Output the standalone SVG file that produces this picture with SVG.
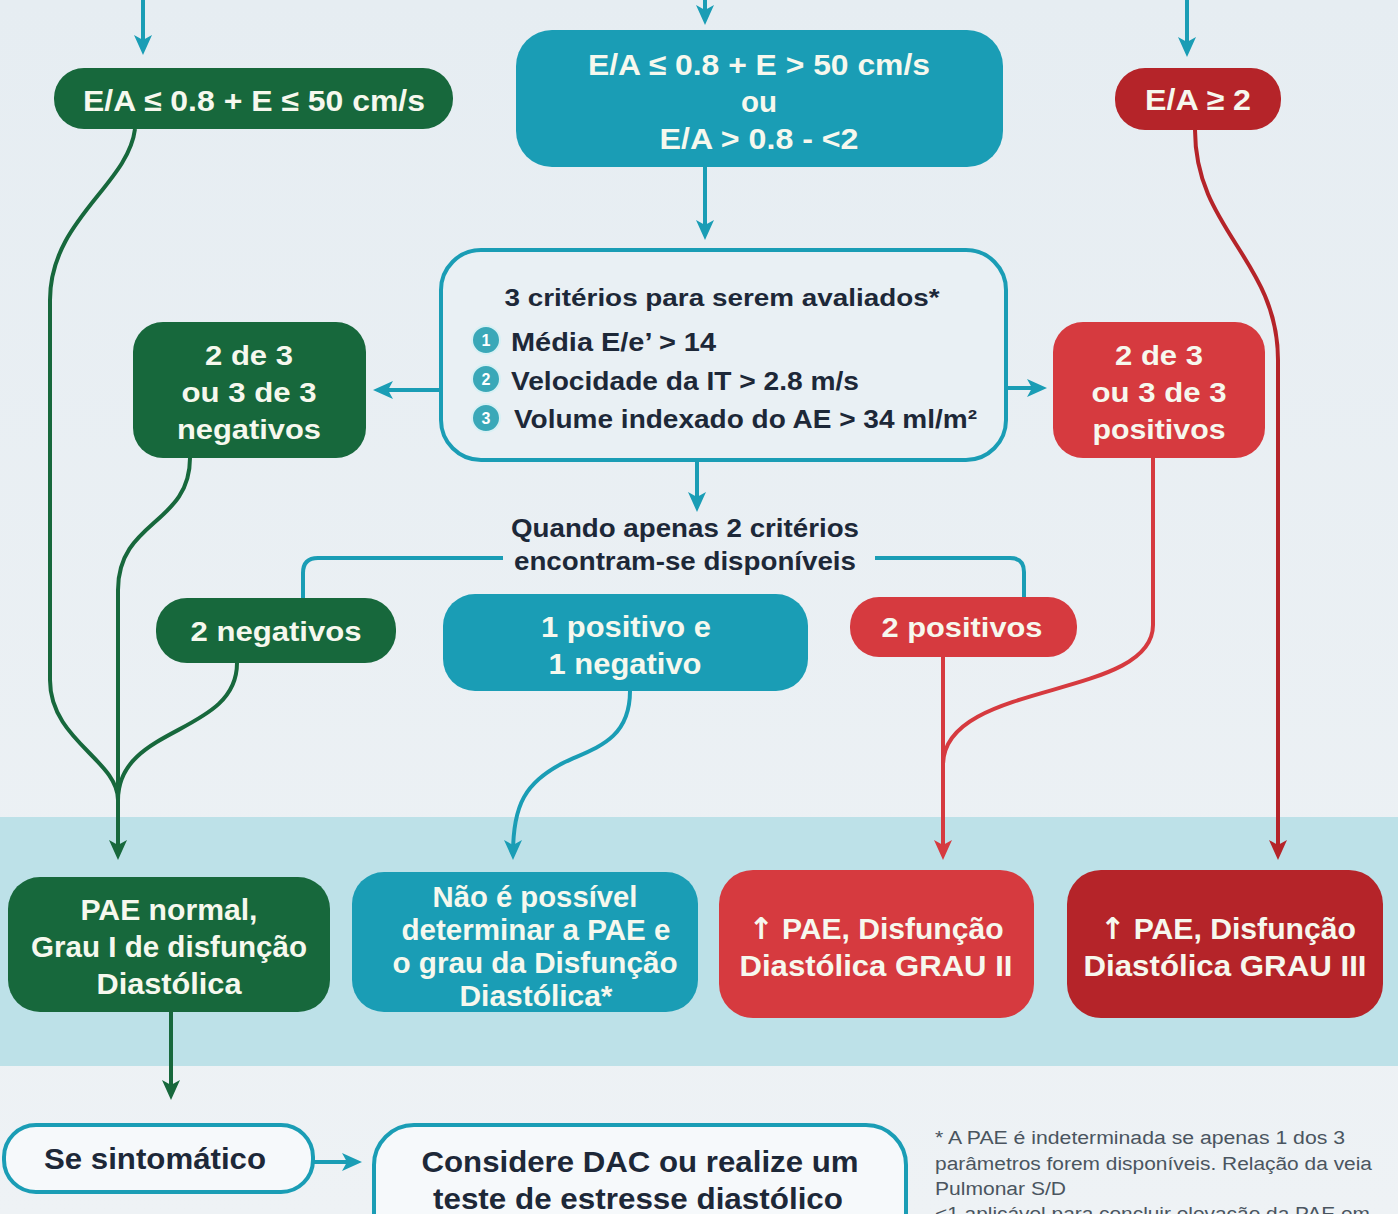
<svg xmlns="http://www.w3.org/2000/svg" width="1398" height="1214" viewBox="0 0 1398 1214">
<defs>
<linearGradient id="bg" x1="0" y1="0" x2="0" y2="1">
<stop offset="0" stop-color="#e6edf2"/>
<stop offset="1" stop-color="#eef2f5"/>
</linearGradient>
<marker id="aT" viewBox="0 0 20 20" refX="14" refY="10" markerWidth="20" markerHeight="20" markerUnits="userSpaceOnUse" orient="auto"><path d="M0,1 L20,10 L0,19 L5,10 Z" fill="#1a9db5"/></marker>
<marker id="aG" viewBox="0 0 20 20" refX="14" refY="10" markerWidth="20" markerHeight="20" markerUnits="userSpaceOnUse" orient="auto"><path d="M0,1 L20,10 L0,19 L5,10 Z" fill="#17683c"/></marker>
<marker id="aR" viewBox="0 0 20 20" refX="14" refY="10" markerWidth="20" markerHeight="20" markerUnits="userSpaceOnUse" orient="auto"><path d="M0,1 L20,10 L0,19 L5,10 Z" fill="#d63a3f"/></marker>
<marker id="aD" viewBox="0 0 20 20" refX="14" refY="10" markerWidth="20" markerHeight="20" markerUnits="userSpaceOnUse" orient="auto"><path d="M0,1 L20,10 L0,19 L5,10 Z" fill="#b52429"/></marker>
</defs>
<style>
.t{font-family:"Liberation Sans",Arial,sans-serif;font-weight:bold;fill:#f6f8ee;text-anchor:middle;dominant-baseline:central}
.d{font-family:"Liberation Sans",Arial,sans-serif;font-weight:bold;fill:#1d2838;dominant-baseline:central}
.f{font-family:"Liberation Sans",Arial,sans-serif;fill:#4a5560;font-size:18px}
.up{font-family:"DejaVu Sans",sans-serif;font-weight:bold}
.g{fill:#17683c}
.c{fill:#1a9db5}
.r{fill:#d63a3f}
.k{fill:#b52429}
.ct{fill:none;stroke:#1a9db5;stroke-width:4}
.cg{fill:none;stroke:#17683c;stroke-width:4}
.cr{fill:none;stroke:#d63a3f;stroke-width:4}
.ck{fill:none;stroke:#b52429;stroke-width:4}
.o{fill:#f6f9fb;stroke:#1a9db5;stroke-width:4}
.n{font-family:"Liberation Sans",Arial,sans-serif;font-weight:bold;fill:#ffffff;font-size:16px;text-anchor:middle;dominant-baseline:central}
</style>
<rect x="0" y="0" width="1398" height="1214" fill="url(#bg)"/>
<rect x="0" y="817" width="1398" height="249" fill="#bde1e8"/>

<g id="connectors">
<path class="ct" d="M143,0 V49" marker-end="url(#aT)"/>
<path class="ct" d="M705,0 V19" marker-end="url(#aT)"/>
<path class="ct" d="M1187,0 V51" marker-end="url(#aT)"/>
<path class="ct" d="M705,167 V234" marker-end="url(#aT)"/>
<path class="ct" d="M441,390 H379" marker-end="url(#aT)"/>
<path class="ct" d="M1006,388 H1041" marker-end="url(#aT)"/>
<path class="ct" d="M697,460 V506" marker-end="url(#aT)"/>
<path class="ct" d="M503,558 H318 Q303,558 303,573 V598"/>
<path class="ct" d="M875,558 H1010 Q1024,558 1024,572 V598"/>
<path class="ct" d="M630,691 C630,740 595,748 565,762 C525,782 513,805 513,854" marker-end="url(#aT)"/>
<path class="ct" d="M313,1162 H356" marker-end="url(#aT)"/>
<path class="cg" d="M135,129 C128,185 50,220 50,300 V680 C50,740 118,760 118,800"/>
<path class="cg" d="M190,458 C190,525 118,520 118,590 V854" marker-end="url(#aG)"/>
<path class="cg" d="M237,663 C237,735 118,725 118,800"/>
<path class="cg" d="M171,1012 V1094" marker-end="url(#aG)"/>
<path class="cr" d="M943,657 V854" marker-end="url(#aR)"/>
<path class="cr" d="M1153,458 V625 C1153,700 943,680 943,765"/>
<path class="ck" d="M1195,130 C1195,230 1278,260 1278,360 V854" marker-end="url(#aD)"/>
</g>

<g id="n_ea_low">
<rect class="g" x="54" y="68" width="399" height="61" rx="30"/>
<text class="t" x="254" y="100" font-size="30" textLength="342" lengthAdjust="spacingAndGlyphs">E/A ≤ 0.8 + E ≤ 50 cm/s</text>
</g>
<g id="n_ea_mid">
<rect class="c" x="516" y="30" width="487" height="137" rx="36"/>
<text class="t" x="759" y="64" font-size="30" textLength="342" lengthAdjust="spacingAndGlyphs">E/A ≤ 0.8 + E &gt; 50 cm/s</text>
<text class="t" x="759" y="101" font-size="30" textLength="36" lengthAdjust="spacingAndGlyphs">ou</text>
<text class="t" x="759" y="138" font-size="30" textLength="199" lengthAdjust="spacingAndGlyphs">E/A &gt; 0.8 - &lt;2</text>
</g>
<g id="n_ea_high">
<rect class="k" x="1115" y="68" width="166" height="62" rx="30"/>
<text class="t" x="1198" y="99" font-size="30" textLength="106" lengthAdjust="spacingAndGlyphs">E/A ≥ 2</text>
</g>
<g id="n_criteria">
<rect class="o" x="441" y="250" width="565" height="210" rx="40" style="fill:#e9f0f4"/>
<text class="d" x="722" y="297" font-size="24" text-anchor="middle" textLength="435" lengthAdjust="spacingAndGlyphs">3 critérios para serem avaliados*</text>
<circle cx="486" cy="340" r="14" fill="#3aa8b8" stroke="#d8f0f4" stroke-width="2"/>
<text class="n" x="486" y="340">1</text>
<circle cx="486" cy="379" r="14" fill="#3aa8b8" stroke="#d8f0f4" stroke-width="2"/>
<text class="n" x="486" y="379">2</text>
<circle cx="486" cy="418" r="14" fill="#3aa8b8" stroke="#d8f0f4" stroke-width="2"/>
<text class="n" x="486" y="418">3</text>
<text class="d" x="511" y="342" font-size="25" textLength="205" lengthAdjust="spacingAndGlyphs">Média E/e’ &gt; 14</text>
<text class="d" x="511" y="381" font-size="25" textLength="348" lengthAdjust="spacingAndGlyphs">Velocidade da IT &gt; 2.8 m/s</text>
<text class="d" x="514" y="419" font-size="25" textLength="463" lengthAdjust="spacingAndGlyphs">Volume indexado do AE &gt; 34 ml/m²</text>
</g>
<g id="n_neg3">
<rect class="g" x="133" y="322" width="233" height="136" rx="30"/>
<text class="t" x="249" y="355" font-size="28" textLength="88" lengthAdjust="spacingAndGlyphs">2 de 3</text>
<text class="t" x="249" y="392" font-size="28" textLength="135" lengthAdjust="spacingAndGlyphs">ou 3 de 3</text>
<text class="t" x="249" y="429" font-size="28" textLength="144" lengthAdjust="spacingAndGlyphs">negativos</text>
</g>
<g id="n_pos3">
<rect class="r" x="1053" y="322" width="212" height="136" rx="30"/>
<text class="t" x="1159" y="355" font-size="28" textLength="88" lengthAdjust="spacingAndGlyphs">2 de 3</text>
<text class="t" x="1159" y="392" font-size="28" textLength="135" lengthAdjust="spacingAndGlyphs">ou 3 de 3</text>
<text class="t" x="1159" y="429" font-size="28" textLength="133" lengthAdjust="spacingAndGlyphs">positivos</text>
</g>
<g id="n_two_label">
<text class="d" x="685" y="528" font-size="25" text-anchor="middle" textLength="348" lengthAdjust="spacingAndGlyphs">Quando apenas 2 critérios</text>
<text class="d" x="685" y="561" font-size="25" text-anchor="middle" textLength="342" lengthAdjust="spacingAndGlyphs">encontram-se disponíveis</text>
</g>
<g id="n_neg2">
<rect class="g" x="156" y="598" width="240" height="65" rx="31"/>
<text class="t" x="276" y="631" font-size="28" textLength="171" lengthAdjust="spacingAndGlyphs">2 negativos</text>
</g>
<g id="n_mix">
<rect class="c" x="443" y="594" width="365" height="97" rx="32"/>
<text class="t" x="626" y="626" font-size="30" textLength="170" lengthAdjust="spacingAndGlyphs">1 positivo e</text>
<text class="t" x="625" y="663" font-size="30" textLength="153" lengthAdjust="spacingAndGlyphs">1 negativo</text>
</g>
<g id="n_pos2">
<rect class="r" x="850" y="597" width="227" height="60" rx="29"/>
<text class="t" x="962" y="627" font-size="28" textLength="161" lengthAdjust="spacingAndGlyphs">2 positivos</text>
</g>
<g id="n_grade1">
<rect class="g" x="8" y="877" width="322" height="135" rx="32"/>
<text class="t" x="169" y="909" font-size="30" textLength="177" lengthAdjust="spacingAndGlyphs">PAE normal,</text>
<text class="t" x="169" y="946" font-size="30" textLength="276" lengthAdjust="spacingAndGlyphs">Grau I de disfunção</text>
<text class="t" x="169" y="983" font-size="30" textLength="145" lengthAdjust="spacingAndGlyphs">Diastólica</text>
</g>
<g id="n_indet">
<rect class="c" x="352" y="872" width="346" height="140" rx="32"/>
<text class="t" x="535" y="896" font-size="30" textLength="205" lengthAdjust="spacingAndGlyphs">Não é possível</text>
<text class="t" x="536" y="929" font-size="30" textLength="269" lengthAdjust="spacingAndGlyphs">determinar a PAE e</text>
<text class="t" x="535" y="962" font-size="30" textLength="285" lengthAdjust="spacingAndGlyphs">o grau da Disfunção</text>
<text class="t" x="536" y="995" font-size="30" textLength="153" lengthAdjust="spacingAndGlyphs">Diastólica*</text>
</g>
<g id="n_grade2">
<rect class="r" x="719" y="870" width="315" height="148" rx="34"/>
<text class="t" x="876" y="928" font-size="30" textLength="255" lengthAdjust="spacingAndGlyphs"><tspan class="up">↑</tspan> PAE, Disfunção</text>
<text class="t" x="876" y="965" font-size="30" textLength="273" lengthAdjust="spacingAndGlyphs">Diastólica GRAU II</text>
</g>
<g id="n_grade3">
<rect class="k" x="1067" y="870" width="316" height="148" rx="34"/>
<text class="t" x="1228" y="928" font-size="30" textLength="256" lengthAdjust="spacingAndGlyphs"><tspan class="up">↑</tspan> PAE, Disfunção</text>
<text class="t" x="1225" y="965" font-size="30" textLength="283" lengthAdjust="spacingAndGlyphs">Diastólica GRAU III</text>
</g>
<g id="n_symptom">
<rect class="o" x="4" y="1125" width="309" height="67" rx="32"/>
<text class="d" x="155" y="1158" font-size="30" text-anchor="middle" textLength="222" lengthAdjust="spacingAndGlyphs">Se sintomático</text>
</g>
<g id="n_consider">
<rect class="o" x="374" y="1125" width="532" height="130" rx="40"/>
<text class="d" x="640" y="1161" font-size="30" text-anchor="middle" textLength="437" lengthAdjust="spacingAndGlyphs">Considere DAC ou realize um</text>
<text class="d" x="638" y="1198" font-size="30" text-anchor="middle" textLength="410" lengthAdjust="spacingAndGlyphs">teste de estresse diastólico</text>
</g>
<g id="footnote">
<text class="f" x="935" y="1144" textLength="410" lengthAdjust="spacingAndGlyphs">* A PAE é  indeterminada se apenas 1 dos 3</text>
<text class="f" x="935" y="1170" textLength="437" lengthAdjust="spacingAndGlyphs">parâmetros forem disponíveis. Relação da veia</text>
<text class="f" x="935" y="1195" textLength="131" lengthAdjust="spacingAndGlyphs">Pulmonar S/D</text>
<text class="f" x="935" y="1220" textLength="435" lengthAdjust="spacingAndGlyphs">&lt;1 aplicável para concluir elevação da PAE em</text>
</g>
</svg>
